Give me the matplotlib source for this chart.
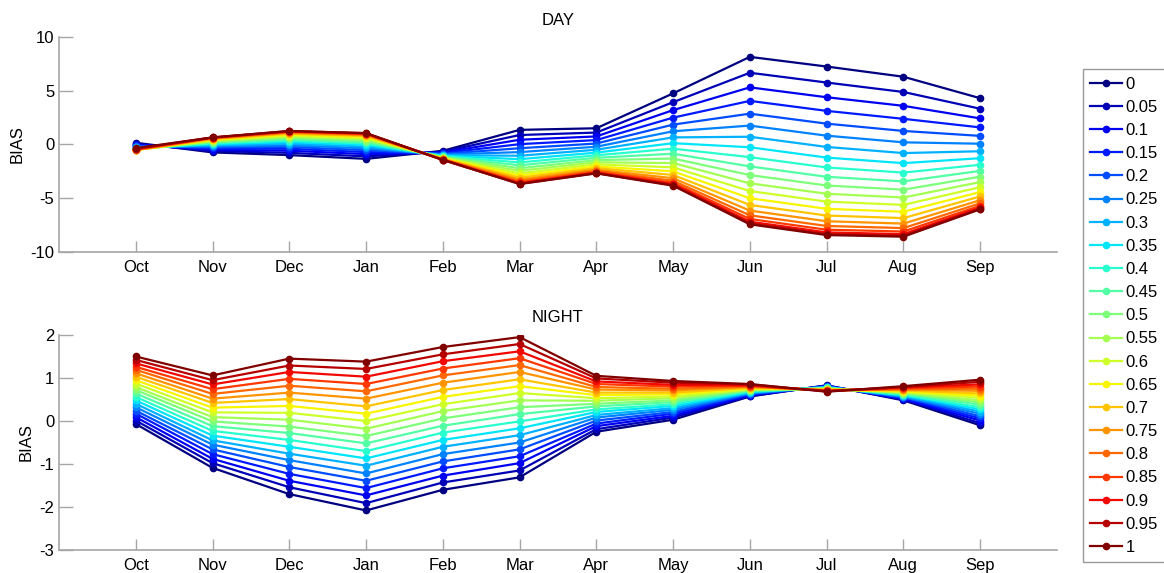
import matplotlib
matplotlib.use("Agg")
import matplotlib.pyplot as plt
import numpy as np

plt.rcParams['font.family'] = ['Liberation Sans', 'DejaVu Sans']
plt.rcParams['axes.unicode_minus'] = False

months = ['Oct', 'Nov', 'Dec', 'Jan', 'Feb', 'Mar', 'Apr', 'May', 'Jun', 'Jul', 'Aug', 'Sep']
weights = ['0', '0.05', '0.1', '0.15', '0.2', '0.25', '0.3', '0.35', '0.4', '0.45', '0.5',
           '0.55', '0.6', '0.65', '0.7', '0.75', '0.8', '0.85', '0.9', '0.95', '1']

# one row per weight, one column per month (Oct..Sep)
day_bias = [
    [0.15, -0.75, -1.00, -1.35, -0.60, 1.35, 1.50, 4.75, 8.15, 7.25, 6.30, 4.30],
    [0.05, -0.62, -0.79, -1.12, -0.68, 0.87, 1.10, 3.93, 6.67, 5.76, 4.88, 3.32],
    [-0.03, -0.50, -0.59, -0.91, -0.76, 0.43, 0.74, 3.19, 5.31, 4.39, 3.59, 2.42],
    [-0.10, -0.38, -0.41, -0.72, -0.82, 0.02, 0.40, 2.49, 4.05, 3.12, 2.38, 1.58],
    [-0.17, -0.28, -0.24, -0.54, -0.89, -0.36, 0.08, 1.84, 2.86, 1.93, 1.25, 0.79],
    [-0.23, -0.18, -0.08, -0.37, -0.95, -0.72, -0.22, 1.22, 1.75, 0.81, 0.19, 0.06],
    [-0.29, -0.08, 0.07, -0.21, -1.01, -1.06, -0.50, 0.65, 0.71, -0.24, -0.81, -0.64],
    [-0.34, 0.01, 0.22, -0.05, -1.06, -1.38, -0.77, 0.11, -0.27, -1.23, -1.75, -1.29],
    [-0.39, 0.09, 0.35, 0.09, -1.11, -1.68, -1.02, -0.40, -1.19, -2.15, -2.63, -1.90],
    [-0.43, 0.17, 0.47, 0.22, -1.16, -1.95, -1.25, -0.87, -2.05, -3.02, -3.45, -2.47],
    [-0.47, 0.24, 0.59, 0.34, -1.20, -2.22, -1.47, -1.32, -2.86, -3.83, -4.22, -3.01],
    [-0.50, 0.31, 0.70, 0.46, -1.24, -2.46, -1.67, -1.74, -3.63, -4.60, -4.95, -3.51],
    [-0.52, 0.37, 0.80, 0.57, -1.28, -2.70, -1.86, -2.14, -4.35, -5.33, -5.64, -3.99],
    [-0.53, 0.43, 0.90, 0.68, -1.32, -2.91, -2.05, -2.51, -5.02, -6.00, -6.28, -4.44],
    [-0.53, 0.49, 0.99, 0.77, -1.35, -3.11, -2.21, -2.85, -5.64, -6.63, -6.87, -4.85],
    [-0.52, 0.54, 1.07, 0.85, -1.38, -3.29, -2.36, -3.15, -6.17, -7.16, -7.38, -5.20],
    [-0.50, 0.57, 1.13, 0.92, -1.40, -3.43, -2.47, -3.39, -6.61, -7.60, -7.80, -5.49],
    [-0.47, 0.61, 1.18, 0.97, -1.42, -3.54, -2.57, -3.58, -6.95, -7.95, -8.12, -5.72],
    [-0.43, 0.63, 1.21, 1.01, -1.44, -3.62, -2.63, -3.71, -7.20, -8.20, -8.36, -5.88],
    [-0.39, 0.64, 1.24, 1.04, -1.45, -3.67, -2.68, -3.80, -7.36, -8.36, -8.51, -5.99],
    [-0.35, 0.65, 1.25, 1.05, -1.45, -3.70, -2.70, -3.85, -7.45, -8.45, -8.60, -6.05],
]

night_bias = [
    [-0.07, -1.09, -1.70, -2.08, -1.60, -1.31, -0.25, 0.03, 0.57, 0.83, 0.48, -0.10],
    [0.01, -0.98, -1.54, -1.91, -1.43, -1.15, -0.19, 0.08, 0.58, 0.82, 0.50, -0.05],
    [0.09, -0.88, -1.39, -1.73, -1.27, -0.98, -0.12, 0.12, 0.60, 0.82, 0.51, 0.01],
    [0.17, -0.77, -1.23, -1.56, -1.10, -0.82, -0.06, 0.17, 0.61, 0.81, 0.53, 0.06],
    [0.24, -0.66, -1.07, -1.39, -0.94, -0.66, 0.01, 0.21, 0.63, 0.80, 0.55, 0.11],
    [0.32, -0.55, -0.91, -1.22, -0.77, -0.50, 0.08, 0.26, 0.64, 0.79, 0.56, 0.17],
    [0.40, -0.45, -0.76, -1.04, -0.60, -0.33, 0.14, 0.30, 0.66, 0.79, 0.58, 0.22],
    [0.48, -0.34, -0.60, -0.87, -0.44, -0.17, 0.21, 0.35, 0.67, 0.78, 0.60, 0.27],
    [0.56, -0.23, -0.44, -0.70, -0.27, -0.01, 0.27, 0.39, 0.69, 0.77, 0.61, 0.32],
    [0.64, -0.12, -0.28, -0.52, -0.11, 0.16, 0.34, 0.44, 0.70, 0.76, 0.63, 0.38],
    [0.72, -0.01, -0.13, -0.35, 0.06, 0.32, 0.40, 0.48, 0.72, 0.76, 0.65, 0.43],
    [0.79, 0.09, 0.03, -0.18, 0.23, 0.48, 0.47, 0.53, 0.73, 0.75, 0.66, 0.48],
    [0.87, 0.20, 0.19, 0.00, 0.39, 0.65, 0.53, 0.57, 0.74, 0.74, 0.68, 0.54],
    [0.95, 0.31, 0.35, 0.17, 0.56, 0.81, 0.60, 0.62, 0.76, 0.73, 0.69, 0.59],
    [1.03, 0.42, 0.51, 0.34, 0.72, 0.97, 0.66, 0.66, 0.77, 0.73, 0.71, 0.64],
    [1.11, 0.52, 0.66, 0.52, 0.89, 1.14, 0.73, 0.71, 0.79, 0.72, 0.73, 0.70],
    [1.19, 0.63, 0.82, 0.69, 1.06, 1.30, 0.79, 0.75, 0.80, 0.71, 0.74, 0.75],
    [1.26, 0.74, 0.98, 0.86, 1.22, 1.46, 0.86, 0.80, 0.82, 0.70, 0.76, 0.80],
    [1.34, 0.85, 1.14, 1.03, 1.39, 1.62, 0.92, 0.84, 0.83, 0.70, 0.78, 0.85],
    [1.42, 0.95, 1.29, 1.21, 1.55, 1.79, 0.99, 0.89, 0.85, 0.69, 0.79, 0.91],
    [1.50, 1.06, 1.45, 1.38, 1.72, 1.95, 1.05, 0.93, 0.86, 0.68, 0.81, 0.96],
]

GRAY = '#a6a6a6'
colors = plt.cm.jet(np.linspace(0, 1, len(weights)))
x = np.arange(1, len(months) + 1)

fig = plt.figure(figsize=(11.64, 5.73), dpi=100)
ax1 = fig.add_axes([0.0507, 0.5607, 0.8573, 0.3747])
ax2 = fig.add_axes([0.0507, 0.0401, 0.8573, 0.3753])


def style_axis(ax, title, ylim, yticks):
    ax.set_xlim(0, 13)
    ax.set_ylim(*ylim)
    ax.set_xticks(x)
    ax.set_xticklabels(months)
    ax.set_yticks(yticks)
    ax.set_ylabel('BIAS', fontsize=12)
    ax.set_title(title, fontsize=12, pad=9)
    for s in ['top', 'right']:
        ax.spines[s].set_visible(False)
    for s in ['left', 'bottom']:
        ax.spines[s].set_color(GRAY)
        ax.spines[s].set_linewidth(1.2)
    ax.tick_params(direction='in', color=GRAY, labelsize=12, width=1)
    ax.tick_params(axis='y', length=10)
    ax.tick_params(axis='x', length=8, pad=6)


lines = []
for i, w in enumerate(weights):
    ln, = ax1.plot(x, day_bias[i], '-o', color=colors[i], lw=1.6, ms=4.5, label=w)
    ax2.plot(x, night_bias[i], '-o', color=colors[i], lw=1.6, ms=4.5)
    lines.append(ln)

style_axis(ax1, 'DAY', (-10, 10), [-10, -5, 0, 5, 10])
style_axis(ax2, 'NIGHT', (-3, 2), [-3, -2, -1, 0, 1, 2])

leg = fig.legend(handles=lines, loc='center left', bbox_to_anchor=(0.930, 0.449),
                 fontsize=12, fancybox=False, edgecolor='#808080', handlelength=1.9,
                 handletextpad=0.25, borderpad=0.45, labelspacing=0.49, borderaxespad=0)
leg.get_frame().set_linewidth(1.0)

fig.savefig('out.png', dpi=100)
